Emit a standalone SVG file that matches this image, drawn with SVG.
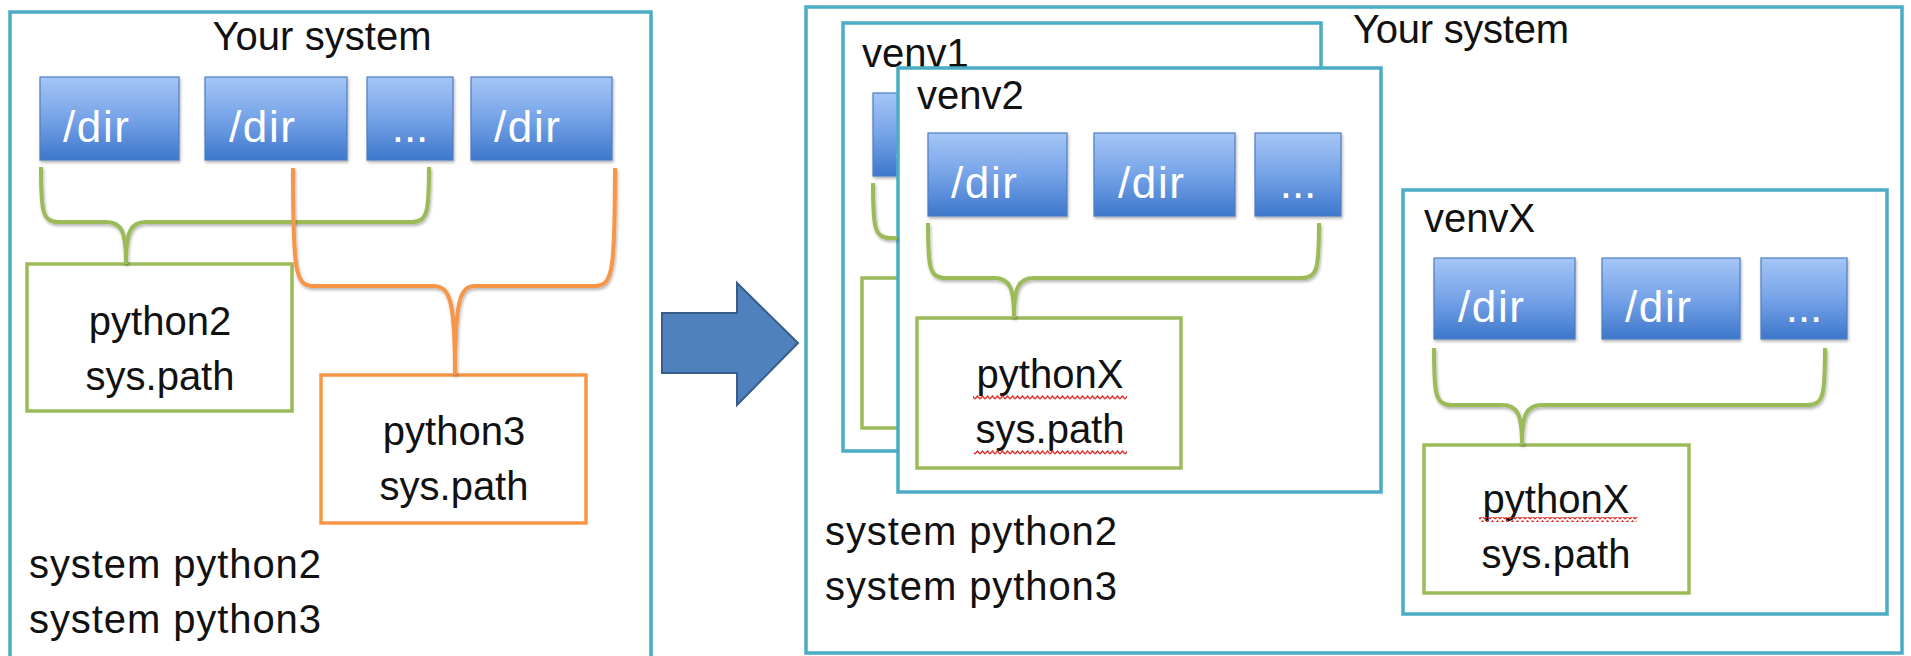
<svg xmlns="http://www.w3.org/2000/svg" width="1911" height="656" viewBox="0 0 1911 656">
<defs>
<linearGradient id="dirg" x1="0" y1="0" x2="0" y2="1">
<stop offset="0" stop-color="#A5C6F6"/>
<stop offset="0.5" stop-color="#76A3E8"/>
<stop offset="1" stop-color="#3D77CB"/>
</linearGradient>
<filter id="sh" x="-10%" y="-10%" width="130%" height="130%">
<feDropShadow dx="1" dy="2" stdDeviation="1.5" flood-color="#000" flood-opacity="0.3"/>
</filter>
<pattern id="sq" width="5" height="5" patternUnits="userSpaceOnUse">
<path d="M0 4 L2.5 1 L5 4" stroke="#E0302C" stroke-width="1.4" fill="none"/>
</pattern>
</defs>
<style>
.sys{fill:#fff;stroke:#4BACC6;stroke-width:3.5}
.dir{fill:url(#dirg);stroke:#4F7EC0;stroke-width:1.2;filter:url(#sh)}
.dt{font-family:"Liberation Sans",Arial,sans-serif;font-size:44px;fill:#fff}
.t{font-family:"Liberation Sans",Arial,sans-serif;font-size:40px;fill:#111}
.gb{fill:#fff;stroke:#9BBB59;stroke-width:3.5}
.ob{fill:#fff;stroke:#F79646;stroke-width:3.5}
.gl{fill:none;stroke:#9BBB59;stroke-width:4;stroke-linejoin:round;filter:url(#sh)}
.ol{fill:none;stroke:#F79646;stroke-width:4;stroke-linejoin:round;filter:url(#sh)}
.sq{fill:url(#sq)}
</style>
<rect width="1911" height="656" fill="#fff"/>

<g id="left-system">
<rect class="sys" x="10" y="12" width="641" height="700"/>
<text class="t" x="322" y="50" text-anchor="middle" textLength="219">Your system</text>
<text class="t" x="29" y="578" textLength="292">system python2</text>
<text class="t" x="29" y="633" textLength="292">system python3</text>
</g>
<g id="left-dir1"><rect class="dir" x="40" y="77" width="139" height="83"/><text class="dt" x="63" y="142" textLength="66">/dir</text></g>
<g id="left-dir2"><rect class="dir" x="205" y="77" width="142" height="83"/><text class="dt" x="229" y="142" textLength="66">/dir</text></g>
<g id="left-dir3"><rect class="dir" x="367" y="77" width="86" height="83"/><text class="dt" x="410" y="142" text-anchor="middle">...</text></g>
<g id="left-dir4"><rect class="dir" x="471" y="77" width="141" height="83"/><text class="dt" x="494" y="142" textLength="66">/dir</text></g>
<g id="python2"><rect class="gb" x="27" y="264" width="265" height="147"/><text class="t" x="160" y="335" text-anchor="middle">python2</text><text class="t" x="160" y="390" text-anchor="middle">sys.path</text></g>
<g id="python3"><rect class="ob" x="321" y="375" width="265" height="148"/><text class="t" x="454" y="445" text-anchor="middle">python3</text><text class="t" x="454" y="500" text-anchor="middle">sys.path</text></g>

<g id="right-system">
<rect class="sys" x="806" y="7" width="1096" height="646"/>
<text class="t" x="1353" y="43" textLength="216">Your system</text>
<text class="t" x="825" y="545" textLength="292">system python2</text>
<text class="t" x="825" y="600" textLength="292">system python3</text>
</g>

<g id="venv1">
<rect class="sys" x="843" y="23" width="478" height="428"/>
<text class="t" x="862" y="67">venv1</text>
<rect class="dir" x="873" y="93" width="139" height="83"/><text class="dt" x="896" y="158" textLength="66">/dir</text>
<rect class="gb" x="862" y="278" width="264" height="150"/>
</g>

<g id="venv2">
<rect class="sys" x="898" y="68" width="483" height="424"/>
<text class="t" x="917" y="109">venv2</text>
<rect class="dir" x="928" y="133" width="139" height="83"/><text class="dt" x="951" y="198" textLength="66">/dir</text>
<rect class="dir" x="1094" y="133" width="141" height="83"/><text class="dt" x="1118" y="198" textLength="66">/dir</text>
<rect class="dir" x="1255" y="133" width="86" height="83"/><text class="dt" x="1298" y="198" text-anchor="middle">...</text>
</g>
<g id="venv2-pythonX">
<rect class="gb" x="917" y="318" width="264" height="150"/>
<text class="t" x="1050" y="388" text-anchor="middle">pythonX</text>
<text class="t" x="1050" y="443" text-anchor="middle">sys.path</text>
<rect class="sq" x="973" y="395" width="154" height="5"/>
<rect class="sq" x="974" y="450" width="153" height="5"/>
</g>

<g id="venvX">
<rect class="sys" x="1403" y="190" width="484" height="424"/>
<text class="t" x="1424" y="232">venvX</text>
<rect class="dir" x="1434" y="258" width="141" height="81"/><text class="dt" x="1458" y="322" textLength="66">/dir</text>
<rect class="dir" x="1602" y="258" width="138" height="81"/><text class="dt" x="1625" y="322" textLength="66">/dir</text>
<rect class="dir" x="1761" y="258" width="86" height="81"/><text class="dt" x="1804" y="322" text-anchor="middle">...</text>
</g>
<g id="venvX-pythonX">
<rect class="gb" x="1424" y="445" width="265" height="148"/>
<text class="t" x="1556" y="513" text-anchor="middle">pythonX</text>
<text class="t" x="1556" y="568" text-anchor="middle">sys.path</text>
<rect class="sq" x="1479" y="517" width="158" height="5"/>
</g>

<g id="connectors">
<path class="gl" d="M41 167 C41 210 42 222 58 222 L106 222 C122 222 126 232 126 264 M429 167 C429 210 428 222 412 222 L146 222 C130 222 126 232 126 264"/>
<path class="ol" d="M293 168 C293 270 295 286 313 286 L433 286 C450 286 455 300 455 375 M615 168 C615 270 613 286 595 286 L475 286 C460 286 455 300 455 375"/>
<path class="gl" d="M873 183 C873 226 874 238 890 238 L897 238"/>
<path class="gl" d="M928 223 C928 266 929 278 945 278 L994 278 C1010 278 1014 288 1014 318 M1319 223 C1319 266 1318 278 1302 278 L1034 278 C1018 278 1014 288 1014 318"/>
<path class="gl" d="M1434 348 C1434 393 1435 405 1451 405 L1502 405 C1518 405 1522 415 1522 445 M1825 348 C1825 393 1824 405 1808 405 L1542 405 C1526 405 1522 415 1522 445"/>
<path d="M662 313 L737 313 L737 283 L798 343 L737 405 L737 373 L662 373 Z" fill="#4F81BD" stroke="#385D8A" stroke-width="2"/>
</g>
</svg>
